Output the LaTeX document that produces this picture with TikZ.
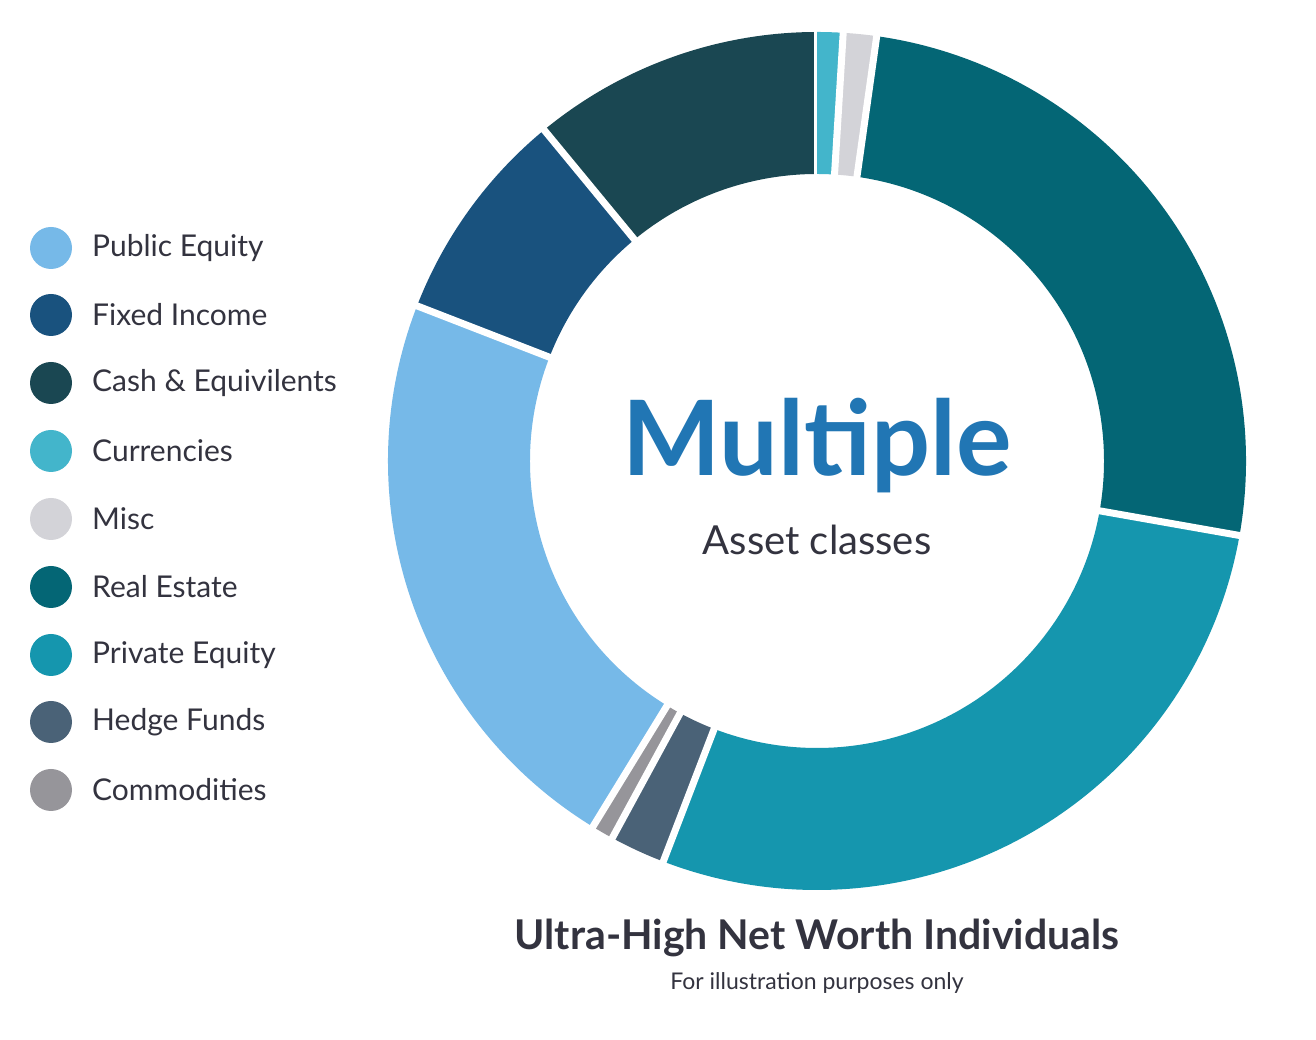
\documentclass[tikz,border=0pt]{standalone}
\usepackage{fontspec}
\setmainfont{Lato}
\definecolor{cPub}{HTML}{76B9E8}
\definecolor{cFix}{HTML}{19527E}
\definecolor{cCash}{HTML}{1A4752}
\definecolor{cCur}{HTML}{43B5CB}
\definecolor{cMisc}{HTML}{D3D3D8}
\definecolor{cRE}{HTML}{046675}
\definecolor{cPE}{HTML}{1596AE}
\definecolor{cHF}{HTML}{4A6277}
\definecolor{cCom}{HTML}{96959A}
\definecolor{cTxt}{HTML}{33333F}
\definecolor{cMult}{HTML}{2176B4}
\tikzset{legtext/.style={anchor=west,font=\fontsize{30}{34}\selectfont,text=cTxt,inner sep=0}}
\begin{document}
\begin{tikzpicture}[x=1pt,y=1pt]
\useasboundingbox[fill=white] (0,0) rectangle (1316,1040);
\begin{scope}[shift={(817,579)}]
\def\R{429}\def\r{287}
\foreach \a/\b/\c in {90/129.5/cCash,129.5/158.8/cFix,158.8/238.5/cPub,238.5/241.5/cCom,241.5/249/cHF,249/350/cPE,350/442/cRE,442/446.5/cMisc,446.5/450/cCur}{
  \fill[\c] (\a:\R) arc[start angle=\a,end angle=\b,radius=\R] -- (\b:\r) arc[start angle=\b,end angle=\a,radius=\r] -- cycle;
  \draw[white,line width=7pt] (\a:\r-5) -- (\a:\R+5);
}
\end{scope}
\node[font=\bfseries\fontsize{104}{110}\selectfont,text=cMult,inner sep=0] (mult) at (817,594) {Multiple};
\node[font=\fontsize{40}{44}\selectfont,text=cTxt,inner sep=0] (ac) at (817,500) {Asset classes};
\node[font=\bfseries\fontsize{41}{45}\selectfont,text=cTxt,inner sep=0] (t) at (817,102) {Ultra-High Net Worth Individuals};
\node[font=\fontsize{23}{26}\selectfont,text=cTxt,inner sep=0] (s) at (817,57) {For illustration purposes only};
\foreach \y/\c/\t in {248/cPub/Public Equity,315/cFix/Fixed Income,383/cCash/Cash \& Equivilents,451/cCur/Currencies,519/cMisc/Misc,587/cRE/Real Estate,655/cPE/Private Equity,722/cHF/Hedge Funds,790/cCom/Commodities}{
  \fill[\c] (51,1040-\y) circle (21);
  \node[legtext] at (92,1040-\y) {\t};
}
\end{tikzpicture}
\end{document}
